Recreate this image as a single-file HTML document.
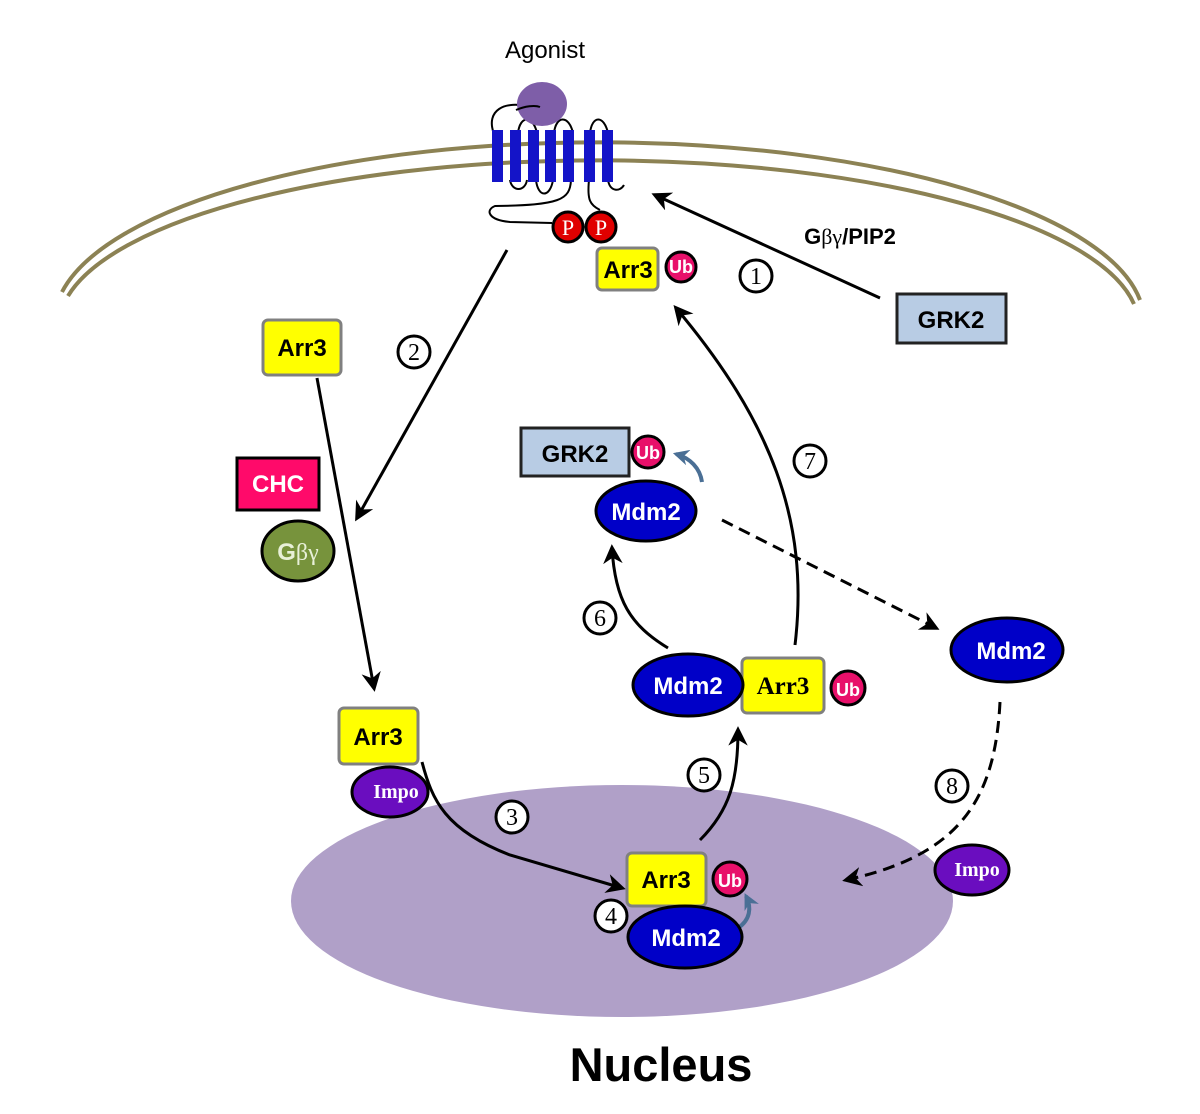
<!DOCTYPE html>
<html><head><style>html,body{margin:0;padding:0;background:#fff}svg{display:block}</style></head><body>
<svg width="1200" height="1114" viewBox="0 0 1200 1114" xmlns="http://www.w3.org/2000/svg" font-family="Liberation Sans, sans-serif">
<defs>
<marker id="ah" viewBox="0 0 10 10" refX="8" refY="5" markerWidth="6.5" markerHeight="6.5" orient="auto"><path d="M0,0 L10,5 L0,10 L3,5z" fill="#000"/></marker>
<marker id="bh" viewBox="0 0 10 10" refX="8" refY="5" markerWidth="4" markerHeight="4" orient="auto"><path d="M0,0 L10,5 L0,10 L3,5z" fill="#4a6f95"/></marker>
</defs>
<ellipse cx="622" cy="901" rx="331" ry="116" fill="#b0a0c8"/>
<path d="M62,292 A545,180 0 0 1 1140,300" fill="none" stroke="#8c8254" stroke-width="4"/>
<path d="M68,296 A540,166 0 0 1 1134,304" fill="none" stroke="#8c8254" stroke-width="4"/>
<g fill="none" stroke="#000" stroke-width="2">
<path d="M494,134 C485,110 505,100 530,107 C540,104 545,103 533,108"/>
<path d="M518,133 C520,115 533,115 537,133"/>
<path d="M554,133 C556,115 569,115 573,133"/>
<path d="M590,133 C592,115 604,115 608,133"/>
<path d="M510,180 C512,192 525,192 527,180"/>
<path d="M536,180 C538,198 550,198 553,180"/>
<path d="M571,180 C570,200 560,205 495,206 C485,210 488,220 510,222 L552,223"/>
<path d="M589,180 C587,200 590,205 600,210"/>
<path d="M608,180 C610,192 620,192 624,185"/>
</g>
<ellipse cx="542" cy="104" rx="25" ry="22" fill="#7e5ea8"/>
<path d="M516,110 C525,106 535,105 540,107" stroke="#000" stroke-width="2" fill="none"/>
<g fill="#1414c8">
<rect x="492" y="130" width="11" height="52"/><rect x="510" y="130" width="11" height="52"/><rect x="528" y="130" width="11" height="52"/><rect x="545" y="130" width="11" height="52"/><rect x="563" y="130" width="11" height="52"/><rect x="584" y="130" width="11" height="52"/><rect x="602" y="130" width="11" height="52"/>
</g>
<text x="545" y="58" font-size="24" text-anchor="middle">Agonist</text>
<g stroke="#000" stroke-width="3" fill="#e00000"><circle cx="568" cy="227" r="15"/><circle cx="601" cy="227" r="15"/></g>
<g fill="#fff" font-family="Liberation Serif, serif" font-size="22" text-anchor="middle"><text x="568" y="235">P</text><text x="601" y="235">P</text></g>
<g fill="none" stroke="#000" stroke-width="3" marker-end="url(#ah)">
<path d="M880,298 L655,195"/>
<path d="M507,250 L357,518"/>
<path d="M317,378 L374,688"/>
<path d="M422,762 C432,800 445,830 510,855 L622,888"/>
<path d="M700,840 C730,810 738,780 738,730"/>
<path d="M668,648 C630,625 615,600 612,548"/>
<path d="M795,645 C810,520 770,420 676,308"/>
<path d="M722,520 L936,628" stroke-dasharray="12,7"/>
<path d="M1000,702 C995,800 960,855 846,880" stroke-dasharray="12,7"/>
</g>
<path d="M702,482 C700,468 690,458 676,454" fill="none" stroke="#4a6f95" stroke-width="4" marker-end="url(#bh)"/>
<path d="M738,928 C750,920 752,908 746,896" fill="none" stroke="#4a6f95" stroke-width="4" marker-end="url(#bh)"/>
<g fill="#fff" stroke="#000" stroke-width="3">
<circle cx="756" cy="276" r="16"/><circle cx="414" cy="352" r="16"/><circle cx="810" cy="461" r="16"/><circle cx="600" cy="618" r="16"/><circle cx="704" cy="775" r="16"/><circle cx="512" cy="817" r="16"/><circle cx="611" cy="916" r="16"/><circle cx="952" cy="786" r="16"/>
</g>
<g font-family="Liberation Serif, serif" font-size="24" text-anchor="middle">
<text x="756" y="284">1</text><text x="414" y="360">2</text><text x="810" y="469">7</text><text x="600" y="626">6</text><text x="704" y="783">5</text><text x="512" y="825">3</text><text x="611" y="924">4</text><text x="952" y="794">8</text>
</g>
<text x="850" y="244" font-size="22" font-weight="bold" text-anchor="middle">G<tspan font-family="Liberation Serif, serif" font-weight="normal">βγ</tspan>/PIP2</text>
<rect x="897" y="294" width="109" height="49" fill="#b8cce4" stroke="#222" stroke-width="3"/>
<text x="951" y="328" font-size="24" font-weight="bold" text-anchor="middle">GRK2</text>
<rect x="521" y="428" width="108" height="48" fill="#b8cce4" stroke="#222" stroke-width="3"/>
<text x="575" y="462" font-size="24" font-weight="bold" text-anchor="middle">GRK2</text>
<g fill="#ffff00" stroke="#808080" stroke-width="3">
<rect x="597" y="248" width="61" height="42" rx="5"/>
<rect x="263" y="320" width="78" height="55" rx="5"/>
<rect x="339" y="708" width="79" height="56" rx="5"/>
<rect x="627" y="853" width="79" height="53" rx="5"/>
<rect x="742" y="658" width="82" height="55" rx="5"/>
</g>
<g font-size="24" font-weight="bold" text-anchor="middle">
<text x="628" y="278">Arr3</text><text x="302" y="356">Arr3</text><text x="378" y="745">Arr3</text><text x="666" y="888">Arr3</text>
</g>
<text x="783" y="694" font-size="25" font-weight="bold" font-family="Liberation Serif, serif" text-anchor="middle">Arr3</text>
<rect x="237" y="458" width="82" height="52" fill="#ff0a6a" stroke="#000" stroke-width="3"/>
<text x="278" y="492" font-size="24" font-weight="bold" fill="#fff" text-anchor="middle">CHC</text>
<ellipse cx="298" cy="551" rx="36" ry="30" fill="#77933c" stroke="#000" stroke-width="3"/>
<text x="298" y="560" font-size="24" font-weight="bold" fill="#e8f0d8" text-anchor="middle">G<tspan font-family="Liberation Serif, serif" font-weight="normal">βγ</tspan></text>
<g fill="#0000c8" stroke="#000" stroke-width="3">
<ellipse cx="646" cy="511" rx="50" ry="30"/>
<ellipse cx="688" cy="685" rx="55" ry="31"/>
<ellipse cx="1007" cy="650" rx="56" ry="32"/>
<ellipse cx="685" cy="937" rx="57" ry="31"/>
</g>
<g font-size="24" font-weight="bold" fill="#fff" text-anchor="middle">
<text x="646" y="520">Mdm2</text><text x="688" y="694">Mdm2</text><text x="1011" y="659">Mdm2</text><text x="686" y="946">Mdm2</text>
</g>
<g fill="#e8106a" stroke="#000" stroke-width="3">
<circle cx="681" cy="267" r="15"/><circle cx="648" cy="452" r="16"/><circle cx="848" cy="688" r="17"/><circle cx="730" cy="879" r="17"/>
</g>
<g font-size="18" font-weight="bold" fill="#fff" text-anchor="middle">
<text x="681" y="273">Ub</text><text x="648" y="459">Ub</text><text x="848" y="696">Ub</text><text x="730" y="887">Ub</text>
</g>
<g fill="#6a0dbf" stroke="#000" stroke-width="3">
<ellipse cx="390" cy="792" rx="38" ry="25"/><ellipse cx="972" cy="870" rx="37" ry="25"/>
</g>
<g font-family="Liberation Serif, serif" font-size="20" font-weight="bold" fill="#fff" text-anchor="middle">
<text x="396" y="798">Impo</text><text x="977" y="876">Impo</text>
</g>
<text x="661" y="1081" font-size="47" font-weight="bold" text-anchor="middle">Nucleus</text>
</svg>
</body></html>
